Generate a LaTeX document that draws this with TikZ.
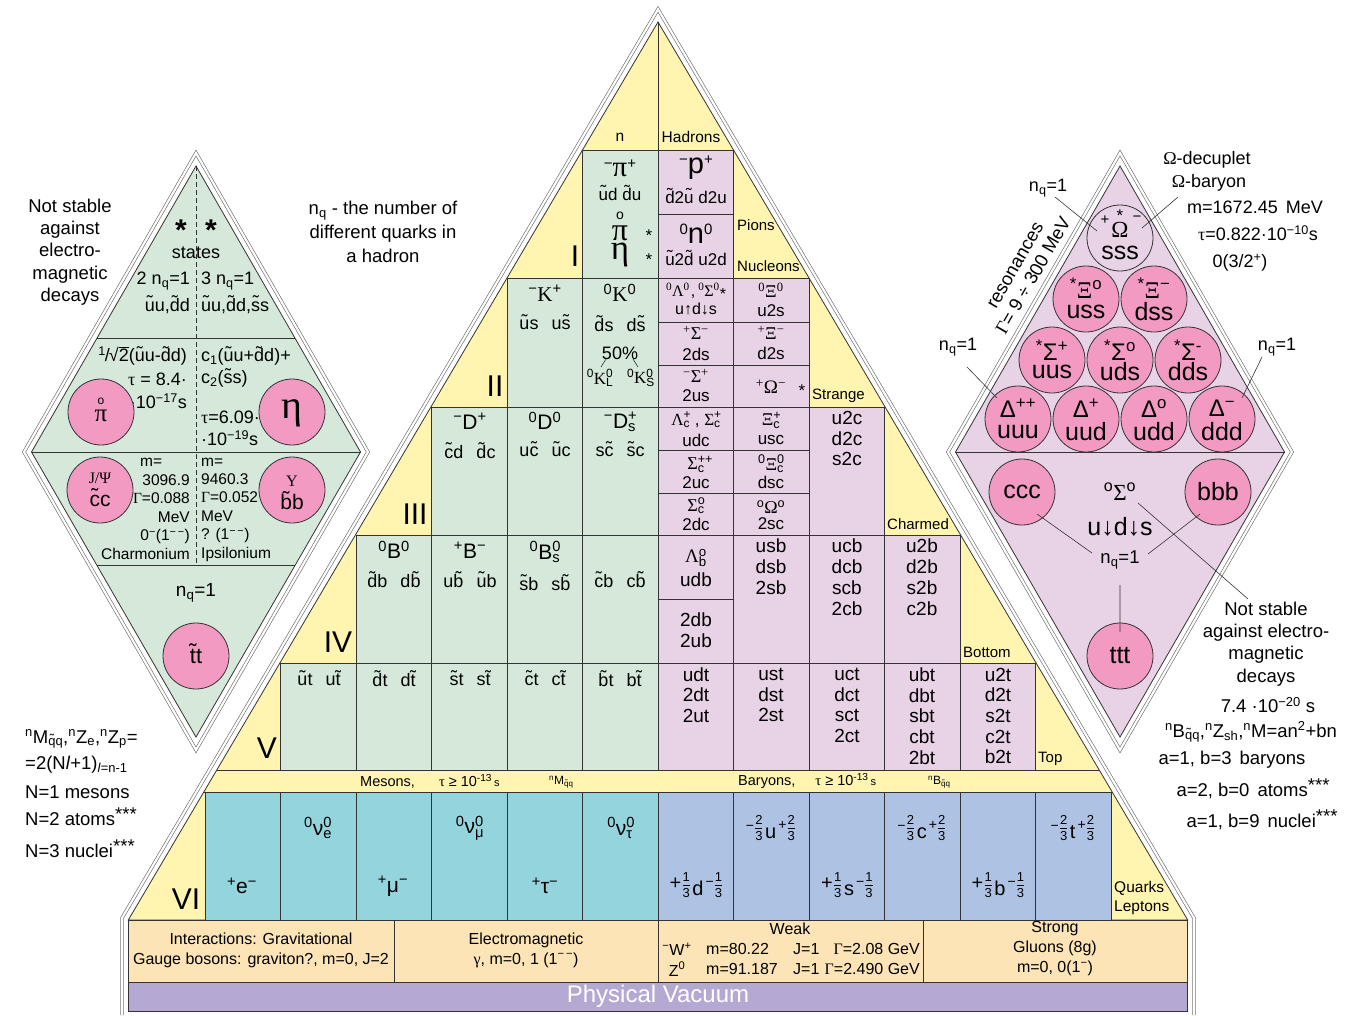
\documentclass[tikz,border=0pt]{standalone}
\usepackage{fontspec}
\setmainfont{Liberation Sans}
\newfontfamily\grk{Liberation Serif}
\newcommand\FS[2]{\fontsize{#1}{#2}\selectfont}
\newcommand\xsp[1]{\textsuperscript{#1}}
\newcommand\xsb[1]{\textsubscript{#1}}
\newcommand\tq[1]{\ooalign{#1\cr\hidewidth\raisebox{0.14em}{\char"02DC}\hidewidth\cr}}
\newcommand\sbsp[2]{\rlap{\textsuperscript{#1}}\textsubscript{#2}}
\newcommand\pss[3]{\raisebox{#1}{\fontsize{#2}{#2}\selectfont #3}}
\newcommand\qfr[2]{$\frac{\mbox{\FS{13}{13}#1}}{\mbox{\FS{13}{13}#2}}$}
\newcommand\qdn[1]{\FS{20}{20}\kern1pt+\qfr13\kern1.5pt\raisebox{-6pt}{#1}\kern2pt\raisebox{3pt}{\FS{14}{14}−}\qfr13}
\newcommand\qup[1]{\FS{20}{20}\raisebox{2pt}{\FS{14}{14}−}\qfr23\kern1.5pt\raisebox{-6pt}{#1}\kern2pt\raisebox{3pt}{\FS{14}{14}+}\qfr23}
\definecolor{yel}{HTML}{FFF5B0}
\definecolor{grn}{HTML}{D5E8DA}
\definecolor{pnk}{HTML}{E8D2E5}
\definecolor{cyn}{HTML}{94D4DC}
\definecolor{blu}{HTML}{AEC3E4}
\definecolor{wht}{HTML}{FCE4B7}
\definecolor{vac}{HTML}{B5A8D3}
\definecolor{cir}{HTML}{F39AC2}
\definecolor{ln}{HTML}{333333}
\begin{document}
\begin{tikzpicture}[x=1pt,y=-1pt,
  every node/.style={inner sep=0pt,align=center},
  c/.style={draw=ln,line width=0.8pt},
  dbl/.style={draw=black!60,double=white,double distance=2.2pt,line width=0.6pt},
  circ/.style={circle,draw=ln,line width=0.8pt,fill=cir,minimum size=66pt,inner sep=0pt},
  lk/.style={draw=ln,line width=0.6pt}]
\useasboundingbox (0,0) rectangle (1368,1015);
\fill[white] (0,0) rectangle (1368,1015);

% ---------- main triangle ----------
\draw[dbl] (122,1015) -- (122,918) -- (658,9.3) -- (1194,918) -- (1194,1015);
\path[c,fill=yel] (658,22) -- (128.3,920) -- (1187.7,920) -- cycle;
% green cells
\path[c,fill=grn] (582.5,150) rectangle (658,278);
\foreach \x in {507,582.5} \path[c,fill=grn] (\x,278) rectangle (\x+75.5,407);
\foreach \x in {431.5,507,582.5} \path[c,fill=grn] (\x,407) rectangle (\x+75.5,535);
\foreach \x in {356,431.5,507,582.5} \path[c,fill=grn] (\x,535) rectangle (\x+75.5,663);
\foreach \x in {280.5,356,431.5,507,582.5} \path[c,fill=grn] (\x,663) rectangle (\x+75.5,770);
\foreach \x in {205,280.5,356,431.5,507,582.5} \path[c,fill=cyn] (\x,792) rectangle (\x+75.5,920);
% pink cells
\path[c,fill=pnk] (658,150) rectangle (733.5,214);
\path[c,fill=pnk] (658,214) rectangle (733.5,278);
\foreach \x in {658,733.5} \foreach \ya/\yb in {278/322,322/365,365/407}
  \path[c,fill=pnk] (\x,\ya) rectangle (\x+75.5,\yb);
\foreach \x in {658,733.5} \foreach \ya/\yb in {407/450,450/493,493/535}
  \path[c,fill=pnk] (\x,\ya) rectangle (\x+75.5,\yb);
\path[c,fill=pnk] (809,407) rectangle (884.5,535);
\path[c,fill=pnk] (658,535) rectangle (733.5,599);
\path[c,fill=pnk] (658,599) rectangle (733.5,663);
\foreach \x in {733.5,809,884.5} \path[c,fill=pnk] (\x,535) rectangle (\x+75.5,663);
\foreach \x in {658,733.5,809,884.5,960} \path[c,fill=pnk] (\x,663) rectangle (\x+75.5,770);
\foreach \x in {658,733.5,809,884.5,960,1035.5} \path[c,fill=blu] (\x,792) rectangle (\x+75.5,920);
% lines
\draw[c] (658,22) -- (658,150);
\draw[c] (216.8,770) -- (1099.2,770);
\draw[c] (203.8,792) -- (1112.2,792);
% bottom band
\path[c,fill=wht] (128.3,920) rectangle (1187.7,982);
\draw[c] (394,920) -- (394,982) (658,920) -- (658,982) (923,920) -- (923,982);
\path[c,fill=vac] (128.3,982) rectangle (1187.7,1011);

% ---------- left diamond ----------
\draw[dbl] (196,153) -- (368,452) -- (196,750) -- (24,452) -- cycle;
\path[c,fill=grn] (196,166) -- (360.5,452) -- (196,737) -- (31.5,452) -- cycle;
\draw[c] (97.1,338) -- (294.9,338) (31.5,452) -- (360.5,452) (96.7,565) -- (295.3,565);
\draw[ln,line width=0.6pt,dash pattern=on 5pt off 3pt] (196,166) -- (196,565);

% ---------- right diamond ----------
\draw[dbl] (1120,153) -- (1292,452) -- (1120,750) -- (948,452) -- cycle;
\path[c,fill=pnk] (1120,166) -- (1284.5,452) -- (1120,737) -- (955.5,452) -- cycle;
\draw[c] (955.5,452) -- (1284.5,452);

% ---------- left diamond text ----------
\node (st1) at (181,230) {\FS{30}{30}\textbf{*}};
\node (st2) at (211,230) {\FS{30}{30}\textbf{*}};
\node (states) at (196,253) {\FS{18}{20}states};
\node[anchor=east] (l2n) at (190,281) {\FS{18}{20}2 n\xsb{q}=1};
\node[anchor=east] (l2q) at (190,306) {\FS{18}{20}\tq{u}u,\tq{d}d};
\node[anchor=west] (l3n) at (201,281) {\FS{18}{20}3 n\xsb{q}=1};
\node[anchor=west] (l3q) at (201,306) {\FS{18}{20}\tq{u}u,\tq{d}d,\tq{s}s};
\node[anchor=east] (sq2) at (187,356) {\FS{18}{20}\xsp{1}\kern-1pt/\kern-1pt√$\overline{\mbox{2}}$(\tq{u}u-\tq{d}d)};
\node[anchor=east] (tau1) at (187,379) {\FS{18}{20}{\grk τ} = 8.4·};
\node[anchor=east] (tau1b) at (187,401) {\FS{18}{20}·10\xsp{−17}s};
\node[anchor=west] (cc1) at (201,357) {\FS{18}{20}c\xsb{1}(\tq{u}u+\tq{d}d)+};
\node[anchor=west] (cc2) at (201,379) {\FS{18}{20}c\xsb{2}(\tq{s}s)};
\node[anchor=west] (tau2) at (201,417) {\FS{18}{20}{\grk τ}=6.09·};
\node[anchor=west] (tau2b) at (201,438) {\FS{18}{20}·10\xsp{−19}s};
\node[circ] (pic) at (101,412) {};
\node (pio) at (101,401) {\FS{12}{12}o};
\node (pip) at (101,416) {\FS{25}{25}\grk π};
\node[circ] (etac) at (292,412) {};
\node (etat) at (292,413) {\FS{40}{40}\grk η};
\node[circ] (jpc) at (100,490) {};
\node (jpt) at (100,478) {\FS{16}{16}\grk J/Ψ};
\node (jpq) at (100,501) {\FS{21}{21}\tq{c}c};
\node[circ] (upc) at (292,490) {};
\node (upt) at (292,481) {\FS{16}{16}\grk Υ};
\node (upq) at (292,502) {\FS{21}{21}\tq{b}b};
\node[anchor=west] (cm) at (140,462) {\FS{15.5}{18}m=};
\node[anchor=east,align=right,font=\FS{15.5}{18.5}] (chm) at (190,517) {3096.9\\{\grk Γ}=0.088\\MeV\\0\xsp{−}(1\xsp{−\,−})\\Charmonium};
\node[anchor=west,align=left,font=\FS{15.5}{18.4}] (ips) at (201,509.6) {m=\\9460.3\\{\grk Γ}=0.052\\MeV\\? (1\xsp{−\,−})\\Ipsilonium};
\node (nq1) at (196,593) {\FS{19}{20}n\xsb{q}=1};
\node[circ] (ttc) at (196,656) {};
\node (ttq) at (196,656) {\FS{22}{22}\tq{t}t};

% ---------- left outside text ----------
\node[font=\FS{18.5}{22.3}] (nsl) at (70,252) {Not stable\\against\\electro-\\magnetic\\decays};
\node[anchor=base west] (fm1) at (25,743) {\FS{18.5}{20}\xsp{n}M\xsb{\tq{q}q},\xsp{n}Z\xsb{e},\xsp{n}Z\xsb{p}=};
\node[anchor=base west] (fm2) at (25,769) {\FS{18.5}{20}=2(N\textit{l}+1)\xsb{\textit{l}=n-1}};
\node[anchor=base west] (fm3) at (25,798) {\FS{18.5}{20}N=1 mesons};
\node[anchor=base west] (fm4) at (25,825) {\FS{18.5}{20}N=2 atoms\raisebox{5pt}{***}};
\node[anchor=base west] (fm5) at (25,857) {\FS{18.5}{20}N=3 nuclei\raisebox{5pt}{***}};
\node[font=\FS{18.5}{24}] (nqd) at (383,232) {n\xsb{q} - the number of\\different quarks in\\a hadron};

% ---------- main triangle text ----------
\node (hn) at (620,137) {\FS{15.5}{17}n};
\node (hh) at (691,137) {\FS{15.5}{17}Hadrons};
\node (pipm) at (620,168) {\FS{29}{29}\pss{8pt}{15}{−}{\grk π}\pss{8pt}{15}{+}};
\node (udq) at (620,194) {\FS{17}{19}\tq{u}d \tq{d}u};
\node (pi0o) at (620,216) {\FS{14}{14}o};
\node (pi0) at (620,233) {\FS{32}{32}\grk π};
\node (st3) at (649,236) {\FS{17}{17}*};
\node (eta) at (620,254.5) {\FS{35}{35}\grk η};
\node (st4) at (649,260) {\FS{17}{17}*};
\node (ppm) at (696,168) {\FS{29}{29}\pss{9pt}{15}{−}p\pss{9pt}{15}{+}};
\node (d2u) at (696,197) {\FS{17}{19}\tq{d}2\tq{u} d2u};
\node (n0) at (696,234) {\FS{29}{29}\pss{9pt}{15}{0}n\pss{9pt}{15}{0}};
\node (u2d) at (696,259) {\FS{17}{19}\tq{u}2\tq{d} u2d};
\node[anchor=west] (pions) at (737,225) {\FS{15}{17}Pions};
\node[anchor=west] (nucl) at (737,266) {\FS{15}{17}Nucleons};
\node (r1) at (575,256) {\FS{30}{30}I};
% row II
\node (kpm) at (545,293) {\FS{21}{21}\xsp{−}{\grk K}\xsp{+}};
\node (usq) at (545,325) {\FS{18}{20}\tq{u}s\hspace{13pt}u\tq{s}};
\node (k00) at (620,293) {\FS{21}{21}\xsp{0}{\grk K}\xsp{0}};
\node (dsq) at (620,325) {\FS{18}{20}\tq{d}s\hspace{13pt}d\tq{s}};
\node (fifty) at (620,353) {\FS{18}{18}50\%};
\node (kl) at (600,378) {\FS{17}{17}\xsp{0}{\grk K}\sbsp{0}{L}};
\node (ks) at (641,378) {\FS{17}{17}\xsp{0}{\grk K}\sbsp{0}{S}};
\coordinate (k1) at (606,359); \coordinate (k2) at (601,367);
\coordinate (k3) at (633,359); \coordinate (k4) at (638,367);
\draw[lk] (k1) -- (k2) (k3) -- (k4);
\node (r2) at (495,386) {\FS{30}{30}II};
\node (lam) at (696,291) {\FS{16}{18}{\grk\xsp{0}Λ\xsp{0}}\kern1pt,\kern3pt{\grk\xsp{0}Σ\xsp{0}}\raisebox{-3pt}{*}};
\node (uds1) at (696,308.5) {\FS{16}{18}u↑d↓s};
\node (sgpm) at (696,333) {\FS{18}{19}{\grk\xsp{+}Σ\xsp{−}}};
\node (q2ds) at (696,354) {\FS{17}{18}2ds};
\node (sgmp) at (696,376) {\FS{18}{19}{\grk\xsp{−}Σ\xsp{+}}};
\node (q2us) at (696,396) {\FS{17}{18}2us};
\node (xi00) at (771,290) {\FS{18}{19}{\grk\xsp{0}Ξ\xsp{0}}};
\node (u2s) at (771,311) {\FS{17}{18}u2s};
\node (xipm) at (771,333) {\FS{18}{19}{\grk\xsp{+}Ξ\xsp{−}}};
\node (d2s) at (771,353.5) {\FS{17}{18}d2s};
\node (ompm) at (771,387) {\FS{19}{19}{\grk\xsp{+}Ω\xsp{−}}};
\node (st5) at (802,391) {\FS{17}{17}*};
\node[anchor=west] (strange) at (812,396) {\FS{15}{17}Strange};
% row III
\node (dpm) at (470,421) {\FS{21}{21}\xsp{−}D\xsp{+}};
\node (cdq) at (470,452) {\FS{18}{20}\tq{c}d\hspace{13pt}\tq{d}c};
\node (d00) at (545,421) {\FS{21}{21}\xsp{0}D\xsp{0}};
\node (ucq) at (545,452) {\FS{18}{20}u\tq{c}\hspace{13pt}\tq{u}c};
\node (dsp) at (620,422) {\FS{21}{21}\xsp{−}D\sbsp{+}{s}};
\node (scq) at (620,452) {\FS{18}{20}s\tq{c}\hspace{13pt}\tq{s}c};
\node (r3) at (415,514) {\FS{30}{30}III};
\node (lcsc) at (696,420) {\FS{17}{18}{\grk Λ}\sbsp{+}{c} , {\grk Σ}\sbsp{+}{c}};
\node (udc) at (696,440.5) {\FS{17}{18}udc};
\node (scpp) at (696,464) {\FS{18}{19}{\grk Σ}\sbsp{++}{c}};
\node (q2uc) at (696,482.5) {\FS{17}{18}2uc};
\node (sc0) at (696,506) {\FS{18}{19}{\grk Σ}\sbsp{o}{c}};
\node (q2dc) at (696,524) {\FS{17}{18}2dc};
\node (xicp) at (771,420) {\FS{18}{19}{\grk Ξ}\sbsp{+}{c}};
\node (usc) at (771,440.5) {\FS{17}{18}usc};
\node (xic0) at (771,464) {\FS{18}{19}\xsp{0}{\grk Ξ}\sbsp{0}{c}};
\node (dsc) at (771,482.5) {\FS{17}{18}dsc};
\node (omc) at (771,507) {\FS{18}{19}\xsp{o}{\grk Ω}\xsp{o}};
\node (q2sc) at (771,524) {\FS{17}{18}2sc};
\node[font=\FS{19}{20.7}] (cq3) at (847,438.5) {u2c\\d2c\\s2c};
\node[anchor=west] (charm) at (887,524) {\FS{15}{17}Charmed};
% row IV
\node (b00) at (394,550) {\FS{21}{21}\xsp{0}B\xsp{0}};
\node (dbq) at (394,581) {\FS{18}{20}\tq{d}b\hspace{13pt}d\tq{b}};
\node (bpm) at (470,550) {\FS{21}{21}\xsp{+}B\xsp{−}};
\node (ubq) at (470,581) {\FS{18}{20}u\tq{b}\hspace{13pt}\tq{u}b};
\node (bs0) at (545,552) {\FS{21}{21}\xsp{0}B\sbsp{0}{s}};
\node (sbq) at (545,584) {\FS{18}{20}\tq{s}b\hspace{13pt}s\tq{b}};
\node (cbq) at (620,581) {\FS{18}{20}\tq{c}b\hspace{13pt}c\tq{b}};
\node (r4) at (338,642) {\FS{30}{30}IV};
\node (lb) at (696,558) {\FS{19}{19}{\grk Λ}\sbsp{o}{b}};
\node (udb) at (696,580) {\FS{19}{19}udb};
\node[font=\FS{19}{21}] (db2) at (696,630.5) {2db\\2ub};
\node[font=\FS{19}{21}] (sb2) at (771,567) {usb\\dsb\\2sb};
\node[font=\FS{19}{21}] (cb3) at (847,577.5) {ucb\\dcb\\scb\\2cb};
\node[font=\FS{19}{21}] (b2c) at (922,577.5) {u2b\\d2b\\s2b\\c2b};
\node[anchor=west] (bottom) at (963,652) {\FS{15}{17}Bottom};
% row V
\node (utq) at (319,680) {\FS{18}{20}\tq{u}t\hspace{13pt}u\tq{t}};
\node (dtq) at (394,680) {\FS{18}{20}\tq{d}t\hspace{13pt}d\tq{t}};
\node (stq) at (470,680) {\FS{18}{20}\tq{s}t\hspace{13pt}s\tq{t}};
\node (ctq) at (545,680) {\FS{18}{20}\tq{c}t\hspace{13pt}c\tq{t}};
\node (btq) at (620,680) {\FS{18}{20}\tq{b}t\hspace{13pt}b\tq{t}};
\node (r5) at (267,748) {\FS{30}{30}V};
\node[font=\FS{19}{20.7}] (t1) at (696,695) {udt\\2dt\\2ut};
\node[font=\FS{19}{20.7}] (t2) at (771,695) {ust\\dst\\2st};
\node[font=\FS{19}{20.7}] (t3) at (847,705.5) {uct\\dct\\sct\\2ct};
\node[font=\FS{19}{20.7}] (t4) at (922,716) {ubt\\dbt\\sbt\\cbt\\2bt};
\node[font=\FS{19}{20.7}] (t5) at (998,716) {u2t\\d2t\\s2t\\c2t\\b2t};
\node[anchor=west] (top) at (1038,759) {\FS{15}{17}Top};
% band
\node[anchor=west] (mes) at (360,781) {\FS{14.5}{16}Mesons,\hspace{24pt}{\grk τ} ≥ 10\xsp{-13}\hspace{2pt}{\FS{11}{11}s}};
\node[anchor=west] (mesn) at (549,782) {\FS{12}{14}\xsp{n}M\xsb{\tq{q}q}};
\node[anchor=west] (bar) at (738,781) {\FS{14.5}{16}Baryons,\hspace{20pt}{\grk τ} ≥ 10\xsp{-13}\hspace{2pt}{\FS{11}{11}s}};
\node[anchor=west] (barn) at (928,782) {\FS{12}{14}\xsp{n}B\xsb{\tq{q}q}};
% row VI
\node (el) at (242,886) {\FS{21}{21}\xsp{+}e\xsp{−}};
\node (nue) at (318,828) {\FS{21}{21}\xsp{0}ν\sbsp{0}{e}};
\node (mu) at (393,886) {\FS{21}{21}\xsp{+}μ\xsp{−}};
\node (numu) at (470,828) {\FS{21}{21}\xsp{0}ν\sbsp{0}{μ}};
\node (tau) at (545,886) {\FS{21}{21}\xsp{+}τ\xsp{−}};
\node (nutau) at (620,828) {\FS{21}{21}\xsp{0}ν\sbsp{0}{τ}};
\node (r6) at (186,899) {\FS{30}{30}VI};
\node (qd) at (696,885) {\qdn{d}};
\node (qu) at (771,828) {\qup{u}};
\node (qs) at (847,885) {\qdn{s}};
\node (qc) at (922,828) {\qup{c}};
\node (qb) at (998,885) {\qdn{b}};
\node (qt) at (1073,828) {\qup{t}};
\node[anchor=west,align=left,font=\FS{15.5}{19}] (ql) at (1114,897.5) {Quarks\\Leptons};
% interactions
\node[font=\FS{16}{20}] (grav) at (261,950) {Interactions: Gravitational\\Gauge bosons: graviton?, m=0, J=2};
\node[font=\FS{16}{20}] (emg) at (526,950) {Electromagnetic\\{\grk γ}, m=0, 1 (1\xsp{−\,−})};
\node (weak) at (790,929) {\FS{16}{18}Weak};
\node (wpm) at (677,949) {\FS{16}{18}\xsp{−}W\xsp{+}};
\node (z0) at (677,969) {\FS{16}{18}Z\xsp{0}};
\node[anchor=west] (wm) at (706,949) {\FS{16}{18}m=80.22};
\node[anchor=west] (zm) at (706,969) {\FS{16}{18}m=91.187};
\node[anchor=west] (wj) at (793,949) {\FS{16}{18}J=1};
\node[anchor=west] (zj) at (793,969) {\FS{16}{18}J=1};
\node[anchor=east] (wg) at (920,949) {\FS{16}{18}{\grk Γ}=2.08 GeV};
\node[anchor=east] (zg) at (920,969) {\FS{16}{18}{\grk Γ}=2.490 GeV};
\node[font=\FS{16}{20}] (strong) at (1055,949) {Strong\\Gluons (8g)\\m=0, 0(1\xsp{−})};
\node (vacuum) at (658,996) {\FS{24}{26}\color{white}Physical Vacuum};

% ---------- right diamond text ----------
\node[circ,fill=pnk] (om) at (1120,238) {};
\node (omp) at (1105,220) {\FS{15}{15}+};
\node (oms) at (1120,216) {\FS{17}{17}*};
\node (omO) at (1120,230) {\FS{23}{23}\grk Ω};
\node (omm) at (1137,219) {\FS{15}{15}−};
\node (omq) at (1120,253) {\FS{25}{25}sss};
\node[circ] (xi0) at (1086,299) {};
\node (xi0a) at (1086,288) {\FS{24}{24}\xsp{*}{\grk Ξ}\xsp{o}};
\node (xi0b) at (1086,312) {\FS{25}{25}uss};
\node[circ] (xim) at (1154,299) {};
\node (xima) at (1154,288) {\FS{24}{24}\xsp{*}{\grk Ξ}\xsp{−}};
\node (ximb) at (1154,312) {\FS{25}{25}dss};
\node[circ] (sgp) at (1052,360) {};
\node (sgpa) at (1052,350) {\FS{24}{24}\xsp{*}Σ\xsp{+}};
\node (sgpb) at (1052,372) {\FS{25}{25}uus};
\node[circ] (sg0) at (1120,360) {};
\node (sg0a) at (1120,350) {\FS{24}{24}\xsp{*}Σ\xsp{o}};
\node (sg0b) at (1120,372) {\FS{25}{25}uds};
\node[circ] (sgm) at (1188,360) {};
\node (sgma) at (1188,350) {\FS{24}{24}\xsp{*}Σ\xsp{-}};
\node (sgmb) at (1188,372) {\FS{25}{25}dds};
\node[circ] (dpp) at (1018,419) {};
\node (dppa) at (1018,408) {\FS{24}{24}Δ\xsp{++}};
\node (dppb) at (1018,432) {\FS{25}{25}uuu};
\node[circ] (dp) at (1086,419) {};
\node (dpa) at (1086,408) {\FS{24}{24}Δ\xsp{+}};
\node (dpb) at (1086,432) {\FS{25}{25}uud};
\node[circ] (d0) at (1154,419) {};
\node (d0a) at (1154,408) {\FS{24}{24}Δ\xsp{o}};
\node (d0b) at (1154,432) {\FS{25}{25}udd};
\node[circ] (dm) at (1222,419) {};
\node (dma) at (1222,408) {\FS{24}{24}Δ\xsp{−}};
\node (dmb) at (1222,432) {\FS{25}{25}ddd};
\node[circ] (ccc) at (1022,492) {};
\node (ccct) at (1022,492) {\FS{25}{25}ccc};
\node[circ] (bbb) at (1218,492) {};
\node (bbbt) at (1218,492) {\FS{25}{25}bbb};
\node[circ] (ttt) at (1120,656) {};
\node (tttt) at (1120,656) {\FS{25}{25}ttt};
\node (s0a) at (1120,492) {\FS{23}{23}\xsp{o}{\grk Σ}\xsp{o}};
\node (s0b) at (1120,527) {\FS{25}{25}u↓d↓s};
\node (nqb) at (1120,560) {\FS{18.5}{20}n\xsb{q}=1};
\node (nqt) at (1048,188) {\FS{18}{20}n\xsb{q}=1};
\node (nql) at (958,347) {\FS{18}{20}n\xsb{q}=1};
\node (nqr) at (1277,347) {\FS{18}{20}n\xsb{q}=1};
\node (od) at (1207,160) {\FS{18}{20}{\grk Ω}-decuplet};
\node (ob) at (1209,183) {\FS{18}{20}{\grk Ω}-baryon};
\node (om1) at (1255,207) {\FS{18}{20}m=1672.45\hspace{8pt}MeV};
\node (om2) at (1258,233) {\FS{18}{20}{\grk τ}=0.822·10\xsp{−10}s};
\node (om3) at (1240,263) {\FS{18}{20}0(3/2\xsp{+})};
\node[rotate=60,font=\FS{18.5}{21}] (res) at (1025,271) {resonances\\{\grk Γ}= 9 ÷ 300 MeV};
\node[font=\FS{18.5}{22.3}] (nsr) at (1266,644) {Not stable\\against electro-\\magnetic\\decays};
\node (t74) at (1268,705) {\FS{18.5}{20}7.4 ·10\xsp{−20} s};
\node (bfm) at (1251,732) {\FS{18.5}{20}\xsp{n}B\xsb{\tq{q}q},\xsp{n}Z\xsb{sh},\xsp{n}M=an\xsp{2}+bn};
\node (ab1) at (1232,760) {\FS{18.5}{20}a=1, b=3\hspace{8pt}baryons};
\node (ab2) at (1253,789) {\FS{18.5}{20}a=2, b=0\hspace{8pt}atoms\raisebox{5pt}{***}};
\node (ab3) at (1262,820) {\FS{18.5}{20}a=1, b=9\hspace{8pt}nuclei\raisebox{5pt}{***}};
% connectors
\coordinate (q1) at (1055,197); \coordinate (q2) at (1097,231);
\coordinate (q3) at (1178,197); \coordinate (q4) at (1142,228);
\coordinate (q5) at (967,367); \coordinate (q6) at (997,398);
\coordinate (q7) at (1262,357); \coordinate (q8) at (1242,398);
\coordinate (q9) at (1037,514); \coordinate (q10) at (1092,553);
\coordinate (q11) at (1200,514); \coordinate (q12) at (1148,554);
\coordinate (q13) at (1120,585); \coordinate (q14) at (1120,632);
\coordinate (q15) at (1138,503); \coordinate (q16) at (1248,599);
\draw[lk] (q1) -- (q2) (q3) -- (q4) (q5) -- (q6) (q7) -- (q8)
  (q9) -- (q10) (q11) -- (q12) (q13) -- (q14) (q15) -- (q16);
\end{tikzpicture}
\end{document}
